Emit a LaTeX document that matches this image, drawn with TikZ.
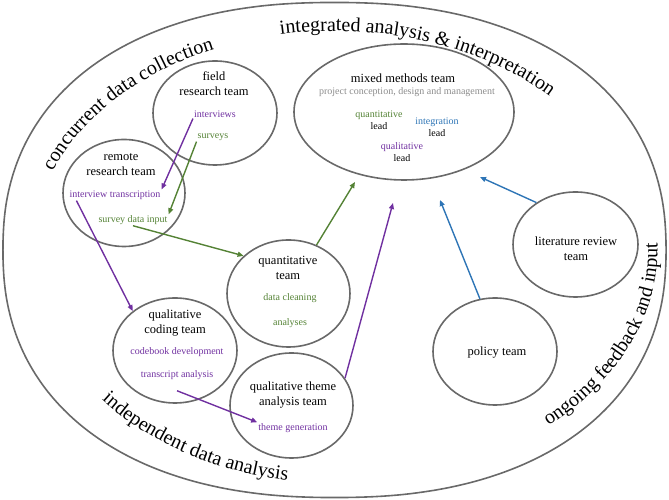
\documentclass[tikz,border=0pt]{standalone}
\usepackage{fontspec}
\setmainfont{Liberation Serif}
\usepackage{tikz}
\usetikzlibrary{positioning, arrows.meta, shapes.geometric, decorations.text}
\definecolor{qualpurple}{RGB}{112,48,160}
\definecolor{quantgreen}{RGB}{84,130,53}
\definecolor{intblue}{RGB}{46,117,182}
\definecolor{rimgray}{RGB}{105,105,105}
\definecolor{notegray}{RGB}{140,140,140}

\begin{document}
\begin{tikzpicture}[x=1pt, y=1pt, every node/.style={align=center, inner sep=1pt, font=\fontsize{10}{12}\selectfont}, team/.style={draw=rimgray, line width=1.6pt, ellipse}, teamname/.style={font=\fontsize{12.5}{15}\selectfont}, arrow/.style={-{Triangle[length=6pt, width=5pt]}, line width=1.4pt}, arctext/.style={decorate, decoration={text along path, text align=center, text={|\fontsize{20}{24}\selectfont|#1}}}]
      \useasboundingbox (0,0) rectangle (669,500);
      \draw[rimgray, line width=1.6pt] plot[variable=\t, domain=1:359, samples=180, smooth cycle]
      ({334.5+331.5*sign(cos(\t))*abs(cos(\t))^0.88}, {250+247.5*sign(sin(\t))*abs(sin(\t))^0.88});

      \path[arctext={concurrent data collection}] (334.5,250) ++(170:302 and 219)
      arc[start angle=170, end angle=105, x radius=302, y radius=219];
      \path[arctext={integrated analysis {\&} interpretation}] (334.5,250)
      ++(106:302 and 219) arc[start angle=106, end angle=38, x radius=302, y radius=219];
      \path[arctext={independent data analysis}] (334.5,250) ++(212:304 and 233)
      arc[start angle=212, end angle=268, x radius=304, y radius=233];
      \path[arctext={ongoing feedback and input}] (334.5,250) ++(-56:323 and 235)
      arc[start angle=-56, end angle=11, x radius=323, y radius=235];

      \node[team, minimum width=124pt, minimum height=104pt] (field) at (215,387) {};
      \node[team, minimum width=122pt, minimum height=107pt] (remote) at (124,307) {};
      \node[team, minimum width=220pt, minimum height=136pt] (mixed) at (404,388) {};
      \node[team, minimum width=125pt, minimum height=105pt] (lit) at (575.5,255.5) {};
      \node[team, minimum width=124pt, minimum height=107pt] (policy) at (495,148.5) {};
      \node[team, minimum width=123pt, minimum height=107pt] (quant) at (288.5,206.5) {};
      \node[team, minimum width=124pt, minimum height=105pt] (coding) at (175,149.5) {};
      \node[team, minimum width=123pt, minimum height=105pt] (theme) at (291.5,94.5) {};

      \node[teamname] (fieldlbl) at (214,416.5) {field\\research team};
      \node[text=qualpurple] (intv) at (215,386) {interviews};
      \node[text=quantgreen] (surv) at (213,363) {surveys};
      \node[teamname] (remotelbl) at (121,335) {remote\\research team};
      \node[text=qualpurple] (itrans) at (115,305) {interview transcription};
      \node[text=quantgreen] (sdi) at (133,280) {survey data input};

      \node[teamname] (mixedlbl) at (403,422) {mixed methods team};
      \node[text=notegray] (mixednote) at (407,408) {project conception, design and management};
      \node (quantlead) at (379,380) {\textcolor{quantgreen}{quantitative}\\lead};
      \node (intlead) at (437,373) {\textcolor{intblue}{integration}\\lead};
      \node (quallead) at (402,348) {\textcolor{qualpurple}{qualitative}\\lead};

      \node[teamname] (litlbl) at (576,251) {literature review\\team};
      \node[teamname] (policylbl) at (497,147) {policy team};
      \node[teamname] (quantlbl) at (288,232.5) {quantitative\\team};
      \node[text=quantgreen] (clean) at (290,202) {data cleaning};
      \node[text=quantgreen] (analyses) at (290,177) {analyses};
      \node[teamname] (codinglbl) at (175,177) {qualitative\\coding team};
      \node[text=qualpurple] (codebook) at (177,148) {codebook development};
      \node[text=qualpurple] (tanal) at (177,125) {transcript analysis};
      \node[teamname] (themelbl) at (293,105) {qualitative theme\\analysis team};
      \node[text=qualpurple] (tgen) at (293,72) {theme generation};

      \coordinate (mixq) at (355,318); \coordinate (mixl) at (393,297);
      \coordinate (mixp) at (440,300); \coordinate (mixr) at (480,323);

      \draw[arrow, qualpurple] (intv.south west) -- (itrans.north east);
      \draw[arrow, quantgreen] (surv.south west) -- (sdi.north east);
      \draw[arrow, quantgreen] (sdi.south) -- (quant.140);
      \draw[arrow, qualpurple] ([xshift=8pt]itrans.south west) -- (coding.137);
      \draw[arrow, qualpurple] ([yshift=-10pt]tanal.south) -- (tgen.north west);
      \draw[arrow, quantgreen] (quant.60) -- (mixq);
      \draw[arrow, qualpurple] (theme.27) -- (mixl);
      \draw[arrow, intblue] (policy.106) -- (mixp);
      \draw[arrow, intblue] (lit.133) -- (mixr);
    \end{tikzpicture}
\end{document}
